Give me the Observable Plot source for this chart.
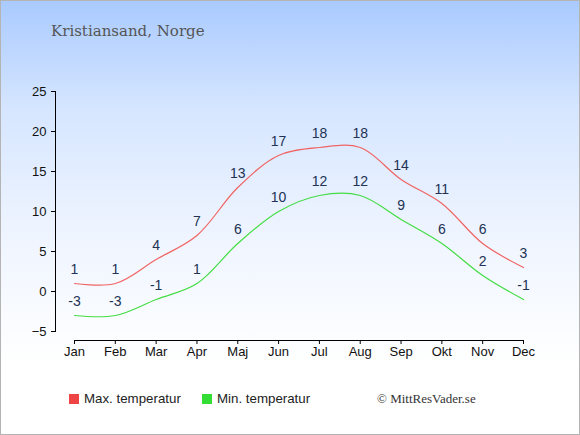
<!DOCTYPE html>
<html>
<head>
<meta charset="utf-8">
<script src="https://cdn.jsdelivr.net/npm/d3@7"></script>
<script src="https://cdn.jsdelivr.net/npm/@observablehq/plot@0.6"></script>
<style>
  html, body { margin: 0; padding: 0; background: #fff; }
  #wrap { position: relative; width: 580px; height: 435px; overflow: hidden;
    background: linear-gradient(to bottom, #a9caff 0px, #d6e6ff 110px, #eef4ff 230px, #ffffff 365px, #ffffff 435px); }
  #wrap svg { position: absolute; left: 0; top: 0; background: transparent; }
  #border { position: absolute; left: 0; top: 0; width: 580px; height: 435px; box-sizing: border-box; border: 1px solid #b4b4b4; pointer-events: none; }
  #title { position: absolute; left: 51px; top: 22px; font-family: "DejaVu Serif", Georgia, serif; font-size: 15px; color: #555; }
  .leg { position: absolute; top: 390px; font-family: "Liberation Sans", Arial, sans-serif; font-size: 13.3px; color: #222; line-height: 18px; }
  .sw { display: inline-block; width: 10px; height: 10px; vertical-align: -1px; margin-right: 5px; }
  #copy { position: absolute; left: 377px; top: 390px; font-family: "Liberation Serif", "Times New Roman", serif; font-size: 13px; color: #333; line-height: 18px; }
</style>
</head>
<body>
<div id="wrap">
  <div id="title">Kristiansand, Norge</div>
  <div class="leg" style="left:69px"><span class="sw" style="background:#ee4444"></span>Max. temperatur</div>
  <div class="leg" style="left:202px"><span class="sw" style="background:#33dd33"></span>Min. temperatur</div>
  <div id="copy">© MittResVader.se</div>
  <div id="border"></div>
</div>
<script>
const months = ["Jan","Feb","Mar","Apr","Maj","Jun","Jul","Aug","Sep","Okt","Nov","Dec"];
const maxTemp = [1, 1, 4, 7, 13, 17, 18, 18, 14, 11, 6, 3];
const minTemp = [-3, -3, -1, 1, 6, 10, 12, 12, 9, 6, 2, -1];
const yTicks = [-5, 0, 5, 10, 15, 20, 25];

const maxData = months.map((m, i) => ({month: m, t: maxTemp[i]}));
const minData = months.map((m, i) => ({month: m, t: minTemp[i]}));

const chart = Plot.plot({
  width: 580,
  height: 435,
  marginLeft: 55,
  marginRight: 57,
  marginTop: 91,
  marginBottom: 95,
  style: {background: "transparent", fontFamily: "Liberation Sans, Arial, sans-serif", fontSize: "13px", color: "#222"},
  x: {type: "point", domain: months, padding: 0, round: false, insetLeft: 19, axis: null},
  y: {domain: [-5, 25], range: [331, 91], axis: null},
  marks: [
    Plot.frame({anchor: "left", stroke: "#000", insetBottom: 9}),
    Plot.frame({anchor: "bottom", stroke: "#000", insetLeft: 19}),
    Plot.axisY({ticks: yTicks, tickSize: 4, tickPadding: 5, fontSize: 13, stroke: "#000", color: "#111", label: null}),
    Plot.axisX({tickSize: 4, tickPadding: 2, fontSize: 13, stroke: "#000", color: "#111", label: null}),
    Plot.line(maxData, {x: "month", y: "t", curve: "catmull-rom", stroke: "#f06464", strokeWidth: 1.2}),
    Plot.line(minData, {x: "month", y: "t", curve: "catmull-rom", stroke: "#44dd44", strokeWidth: 1.2}),
    Plot.text(maxData, {x: "month", y: "t", text: d => String(d.t), dy: -14, fill: "#223355", fontSize: 14}),
    Plot.text(minData, {x: "month", y: "t", text: d => String(d.t), dy: -14, fill: "#223355", fontSize: 14})
  ]
});
document.getElementById("wrap").insertBefore(chart, document.getElementById("title"));
</script>
</body>
</html>
